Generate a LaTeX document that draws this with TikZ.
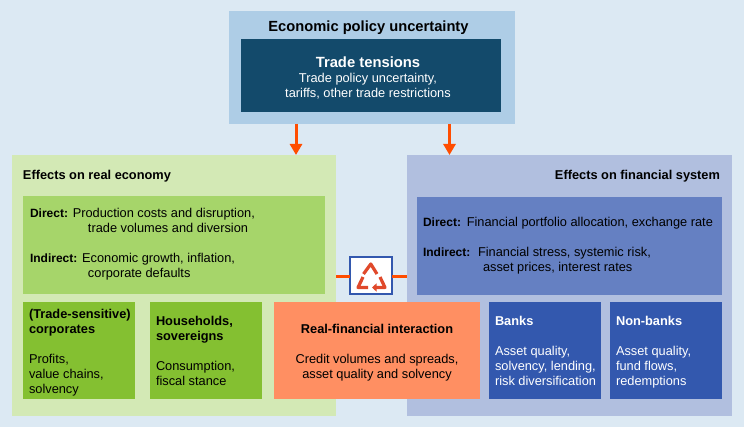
\documentclass[tikz,border=0pt]{standalone}
\usepackage{fontspec}
\setmainfont{Liberation Sans}
\usetikzlibrary{positioning,calc,arrows.meta}
\definecolor{pagebg}{RGB}{220,233,243}
\definecolor{policyblue}{RGB}{174,205,230}
\definecolor{tradeblue}{RGB}{19,74,107}
\definecolor{realpale}{RGB}{211,233,181}
\definecolor{realmid}{RGB}{166,213,106}
\definecolor{realdark}{RGB}{132,192,49}
\definecolor{finpale}{RGB}{177,191,223}
\definecolor{finmid}{RGB}{101,128,194}
\definecolor{findark}{RGB}{51,88,174}
\definecolor{linkorange}{RGB}{255,143,98}
\definecolor{arroworange}{RGB}{255,77,0}
\definecolor{iconred}{RGB}{224,73,43}
\newcommand{\leadin}[1]{{\fontsize{12}{15}\selectfont\bfseries #1}}

\begin{document}
\begin{tikzpicture}[
    x=1pt, y=-1pt,
    box/.style={rectangle, anchor=north west, inner sep=0pt, outer sep=0pt},
    boxtext/.style={anchor=north west, inner sep=0pt, outer sep=0pt, align=left, font=\fontsize{12.8}{15}\selectfont},
    boxtitle/.style={boxtext, font=\fontsize{12.8}{15}\selectfont\bfseries},
    flow/.style={line width=3pt, arroworange, -{Triangle[length=11pt,width=12pt]}},
    link/.style={line width=3pt, arroworange},
    recycle/.style={line width=3.2pt, iconred, line join=round},
    recyclehead/.style={recycle, -{Triangle[length=4.5pt,width=8pt]}}
]
\useasboundingbox (0,0) rectangle (744,427);
\fill[pagebg] (0,0) rectangle (744,427);

% Top box
\node[box, fill=policyblue, minimum width=286pt, minimum height=113pt] (policy) at (229,11) {};
\node[box, fill=tradeblue, minimum width=260pt, minimum height=73pt] (trade) at (241,39) {};
\node[boxtitle, anchor=center, font=\fontsize{14.7}{15}\selectfont\bfseries] (policyTitle) at (368.5,28) {Economic policy uncertainty};
\node[anchor=center, inner sep=0pt, align=center, text=white, font=\fontsize{12.8}{15}\selectfont] (tradeText) at (368,77.5) {{\fontsize{14.8}{16}\selectfont\bfseries Trade tensions}\\Trade policy uncertainty,\\tariffs, other trade restrictions};

% Panels
\node[box, fill=realpale, minimum width=324pt, minimum height=261pt] (real) at (12,155) {};
\node[box, fill=finpale, minimum width=325pt, minimum height=261pt] (fin) at (407,155) {};
\node[boxtitle] (realTitle) at (23,170.5) {Effects on real economy};
\node[boxtitle, anchor=north east] (finTitle) at (720,170.5) {Effects on financial system};

% Arrows
\coordinate (flowL) at (296,140);
\coordinate (flowR) at (449.5,140);
\draw[flow] (policy.south -| flowL) -- (real.north -| flowL);
\draw[flow] (policy.south -| flowR) -- (fin.north -| flowR);

% Direct boxes
\node[box, fill=realmid, minimum width=302pt, minimum height=98pt] (realDirect) at (23,196) {};
\node[box, fill=finmid, minimum width=305pt, minimum height=98pt] (finDirect) at (417,197) {};
\node[boxtext] (realA) at (30,208) {\leadin{Direct:} Production costs and disruption,\\\hspace*{58pt}trade volumes and diversion};
\node[boxtext] (realB) at (30,253.5) {\leadin{Indirect:} Economic growth, inflation,\\\hspace*{58pt}corporate defaults};
\node[boxtext] (finA) at (423,217.5) {\leadin{Direct:}\hspace{1pt} Financial portfolio allocation, exchange rate};
\node[boxtext] (finB) at (423,247.5) {\leadin{Indirect:}\hspace{3pt} Financial stress, systemic risk,\\\hspace*{60pt}asset prices, interest rates};

% Link and icon
\coordinate (linkY) at (371,277);
\node[box, anchor=center, fill=white, draw=findark, line width=2pt, minimum width=42pt, minimum height=37pt] (icon) at (371,275.5) {};
\draw[link] (real.east |- linkY) -- (icon.west |- linkY);
\draw[link] (icon.east |- linkY) -- (fin.west |- linkY);
\draw[recycle] (363.5,274) -- (370.8,264) -- (377,274);
\draw[recycle] (363,277) -- (358,287.5) -- (368,287.5);
\draw[recyclehead] (380,277) -- (385,287.5) -- (372,287.5);

% Bottom row
\node[box, fill=realdark, minimum width=112pt, minimum height=97pt] (corp) at (23,302) {};
\node[box, fill=realdark, minimum width=112pt, minimum height=97pt] (house) at (150,302) {};
\node[box, fill=linkorange, minimum width=206pt, minimum height=97pt] (inter) at (274,302) {};
\node[box, fill=findark, minimum width=112pt, minimum height=97pt] (banks) at (489,302) {};
\node[box, fill=findark, minimum width=112pt, minimum height=97pt] (nonbanks) at (610,302) {};

\node[boxtext] (corpText) at (29,309.5) {\textbf{(Trade-sensitive)}\\\textbf{corporates}\\[15pt]Profits,\\value chains,\\solvency};
\node[boxtext] (houseText) at (156,316.5) {\textbf{Households,}\\\textbf{sovereigns}\\[15pt]Consumption,\\fiscal stance};
\node[boxtext, anchor=north, align=center] (interText) at (377,324) {\textbf{Real-financial interaction}\\[15pt]Credit volumes and spreads,\\asset quality and solvency};
\node[boxtext, text=white] (banksText) at (495,316.5) {\textbf{Banks}\\[15pt]Asset quality,\\solvency, lending,\\risk diversification};
\node[boxtext, text=white] (nonbanksText) at (616,316.5) {\textbf{Non-banks}\\[15pt]Asset quality,\\fund flows,\\redemptions};

\end{tikzpicture}
\end{document}
